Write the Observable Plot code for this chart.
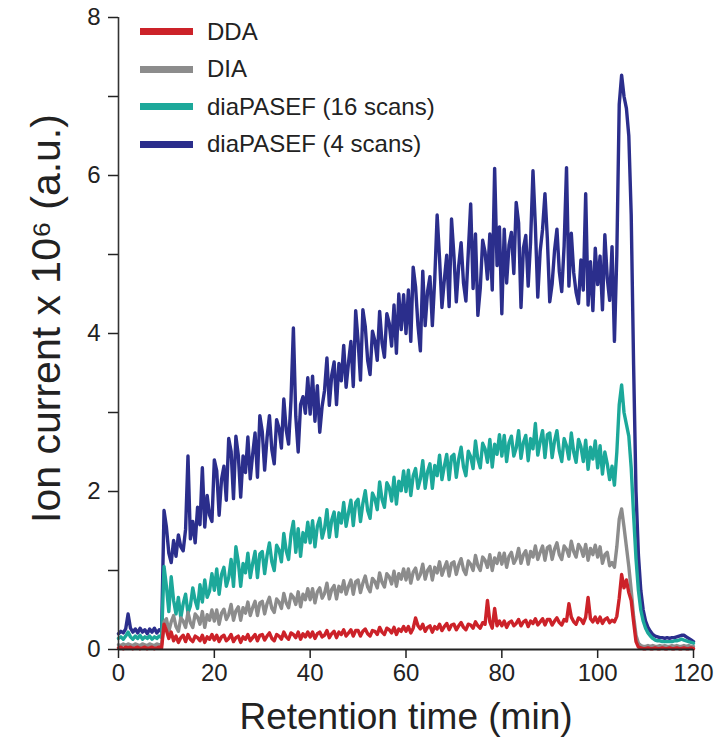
<!DOCTYPE html>
<html><head><meta charset="utf-8">
<script src="https://cdn.jsdelivr.net/npm/d3@7"></script>
<script src="https://cdn.jsdelivr.net/npm/@observablehq/plot@0.6"></script>
<style>
body{margin:0;background:#fff;}
#wrap{position:relative;width:721px;height:745px;font-family:"Liberation Sans",Arial,sans-serif;}
#legend{position:absolute;left:140px;top:13px;}
.row{display:flex;align-items:center;height:37.5px;font-size:24px;color:#222;white-space:nowrap;}
.sw{width:53px;height:7px;margin-right:14px;}
</style></head><body><div id="wrap"><div id="legend"></div></div>
<script>
const seriesNames = ["DDA", "DIA", "diaPASEF (16 scans)", "diaPASEF (4 scans)"];
const seriesColors = ["#cc2229", "#8c8c8c", "#1ca89a", "#2b2e8c"];
const xTicks = [0, 20, 40, 60, 80, 100, 120];
const yMajor = [0, 2, 4, 6, 8];
const yMinor = [1, 3, 5, 7];
const xTitle = "Retention time (min)";
const yTitle = "Ion current x 10\u2076 (a.u.)";
// retention time grid, every 0.5 min from 0 to 120
const time = d3.range(0, 120.25, 0.5);

const pasef4 = [
0.20,0.23,0.21,0.26,0.45,0.27,0.22,0.26,0.21,0.27,0.22,0.25,0.20,0.26,0.22,0.27,0.21,0.25,0.23,1.76,
1.55,1.22,1.10,1.38,1.18,1.45,1.30,1.25,1.52,2.45,1.40,1.62,1.35,1.80,1.58,2.30,1.55,1.95,1.70,1.62,
2.40,2.26,1.70,2.15,2.32,1.89,2.67,2.51,1.91,2.70,2.46,1.93,2.45,2.24,2.69,2.16,2.47,2.74,2.18,2.96,
2.76,2.27,2.68,2.96,2.53,2.35,2.91,2.80,2.55,3.17,2.78,2.60,3.16,4.07,2.95,2.50,3.10,3.20,2.99,3.44,
2.98,3.46,2.89,3.34,2.75,3.08,3.28,3.69,3.09,3.47,3.64,3.10,3.62,3.40,3.85,3.32,3.63,3.90,3.33,4.29,
3.91,3.41,4.30,4.09,3.66,3.48,4.03,3.91,3.66,4.28,3.88,3.70,4.25,4.13,3.84,4.36,3.75,4.50,4.05,4.49,
4.00,4.55,3.90,4.84,4.59,4.10,3.78,4.79,4.10,4.53,4.72,4.10,4.69,5.50,4.95,4.33,4.68,4.99,4.34,5.45,
4.99,4.40,4.86,5.15,4.64,4.41,5.03,5.64,4.57,5.26,4.23,4.57,5.18,5.03,4.69,5.26,4.55,6.09,4.86,5.35,
4.25,5.32,4.64,5.12,5.28,4.76,5.66,5.40,4.33,5.08,5.24,4.60,5.16,6.06,5.36,4.46,5.04,5.32,5.77,5.20,
4.40,4.63,5.05,5.32,4.78,4.53,5.11,6.10,4.60,5.27,4.77,4.52,4.38,4.93,4.55,5.77,4.36,4.91,4.29,5.08,
4.62,4.98,4.30,5.25,4.70,4.42,5.10,3.90,5.00,6.90,7.27,7.00,6.85,6.50,5.50,3.60,2.00,1.20,0.75,0.50,
0.36,0.28,0.23,0.19,0.17,0.16,0.15,0.15,0.14,0.15,0.14,0.15,0.15,0.16,0.17,0.18,0.18,0.16,0.14,0.12,
0.10];

const pasef16 = [
0.14,0.16,0.13,0.17,0.22,0.16,0.13,0.17,0.14,0.18,0.13,0.16,0.14,0.17,0.13,0.16,0.14,0.17,0.15,1.05,
0.80,0.48,0.92,0.62,0.45,0.66,0.40,0.58,0.70,0.46,0.55,0.78,0.62,0.52,0.82,0.60,0.88,0.66,0.74,0.96,
0.75,1.02,0.70,0.95,1.04,0.80,0.91,1.14,0.80,1.30,1.11,0.80,1.09,0.97,1.22,0.91,1.09,1.24,0.91,1.21,
1.24,0.96,1.19,1.35,1.11,1.00,1.32,1.26,1.11,1.47,1.25,1.14,1.46,1.62,1.23,1.53,1.18,1.48,1.36,1.61,
1.35,1.63,1.30,1.56,1.66,1.41,1.53,1.77,1.42,1.64,1.74,1.43,1.73,1.60,1.86,1.56,1.73,1.89,1.57,1.86,
1.90,1.62,1.85,2.01,1.76,1.66,1.98,1.91,1.77,2.12,1.90,1.80,2.11,2.05,1.88,2.18,1.84,2.13,2.01,2.26,
2.00,2.27,1.95,2.20,2.29,2.04,2.16,2.39,2.04,2.25,2.35,2.04,2.33,2.20,2.46,2.15,2.32,2.47,2.15,2.44,
2.47,2.18,2.41,2.56,2.31,2.20,2.51,2.44,2.29,2.64,2.41,2.30,2.61,2.54,2.37,2.66,2.31,2.60,2.47,2.72,
2.45,2.71,2.38,2.62,2.70,2.45,2.55,2.77,2.42,2.62,2.71,2.39,2.67,2.54,2.86,2.46,2.63,2.77,2.43,2.72,
2.74,2.43,2.64,2.77,2.51,2.38,2.67,2.58,2.41,2.74,2.50,2.37,2.66,2.57,2.38,2.65,2.28,2.56,2.41,2.64,
2.30,2.58,2.22,2.50,2.35,2.15,2.32,2.08,2.50,3.10,3.35,3.00,2.85,2.70,2.30,1.70,1.15,0.75,0.50,0.36,
0.27,0.21,0.17,0.14,0.12,0.11,0.11,0.10,0.10,0.10,0.10,0.10,0.11,0.11,0.12,0.13,0.12,0.11,0.10,0.09,
0.08];

const dia = [
0.06,0.05,0.07,0.05,0.07,0.06,0.05,0.07,0.06,0.05,0.07,0.06,0.05,0.07,0.06,0.05,0.07,0.06,0.06,0.35,
0.39,0.23,0.35,0.43,0.29,0.23,0.40,0.36,0.28,0.47,0.34,0.28,0.45,0.41,0.32,0.48,0.28,0.44,0.37,0.50,
0.36,0.50,0.32,0.46,0.51,0.38,0.44,0.57,0.37,0.49,0.54,0.37,0.53,0.46,0.60,0.43,0.53,0.61,0.43,0.59,
0.61,0.45,0.58,0.66,0.52,0.47,0.64,0.60,0.52,0.71,0.59,0.53,0.70,0.66,0.57,0.73,0.54,0.70,0.63,0.77,
0.63,0.77,0.59,0.73,0.78,0.65,0.71,0.84,0.64,0.76,0.81,0.64,0.80,0.73,0.87,0.70,0.80,0.88,0.70,0.86,
0.88,0.72,0.84,0.93,0.79,0.73,0.90,0.86,0.78,0.97,0.85,0.79,0.96,0.92,0.83,0.99,0.80,0.96,0.89,1.02,
0.88,1.02,0.84,0.98,1.03,0.89,0.95,1.08,0.89,1.00,1.05,0.88,1.04,0.97,1.11,0.94,1.03,1.11,0.93,1.09,
1.11,0.95,1.07,1.15,1.01,0.95,1.12,1.08,1.00,1.19,1.06,1.00,1.17,1.13,1.04,1.20,1.00,1.16,1.09,1.22,
1.08,1.22,1.04,1.18,1.23,1.09,1.15,1.28,1.09,1.20,1.25,1.08,1.24,1.17,1.31,1.14,1.23,1.31,1.13,1.29,
1.31,1.14,1.27,1.35,1.20,1.14,1.31,1.27,1.18,1.37,1.24,1.17,1.33,1.28,1.18,1.33,1.13,1.28,1.20,1.32,
1.17,1.30,1.09,1.20,1.23,1.06,1.10,1.04,1.30,1.65,1.78,1.55,1.30,1.05,0.75,0.42,0.18,0.08,0.05,0.04,
0.04,0.05,0.04,0.05,0.04,0.04,0.05,0.04,0.05,0.04,0.04,0.05,0.04,0.05,0.04,0.04,0.05,0.04,0.05,0.04,
0.04];

const dda = [
0.02,0.03,0.01,0.03,0.02,0.03,0.01,0.02,0.03,0.01,0.02,0.03,0.01,0.02,0.03,0.01,0.02,0.03,0.02,0.32,
0.24,0.14,0.22,0.11,0.17,0.09,0.15,0.18,0.10,0.19,0.13,0.10,0.17,0.15,0.11,0.18,0.09,0.16,0.13,0.19,
0.12,0.18,0.10,0.16,0.18,0.11,0.14,0.19,0.10,0.15,0.17,0.09,0.16,0.13,0.19,0.11,0.15,0.19,0.11,0.18,
0.19,0.12,0.17,0.21,0.14,0.11,0.19,0.17,0.13,0.22,0.16,0.13,0.21,0.19,0.15,0.22,0.13,0.20,0.16,0.22,
0.16,0.22,0.14,0.20,0.22,0.16,0.18,0.24,0.15,0.20,0.23,0.15,0.22,0.19,0.25,0.17,0.21,0.25,0.17,0.24,
0.24,0.17,0.23,0.26,0.20,0.17,0.24,0.23,0.19,0.28,0.22,0.19,0.27,0.25,0.21,0.28,0.19,0.26,0.23,0.29,
0.23,0.29,0.21,0.27,0.40,0.30,0.26,0.32,0.23,0.28,0.30,0.22,0.29,0.26,0.32,0.24,0.29,0.33,0.25,0.31,
0.32,0.25,0.30,0.34,0.28,0.25,0.32,0.31,0.27,0.35,0.30,0.27,0.34,0.32,0.62,0.35,0.27,0.52,0.30,0.36,
0.30,0.36,0.28,0.34,0.36,0.30,0.33,0.38,0.30,0.35,0.37,0.29,0.36,0.33,0.39,0.31,0.35,0.39,0.31,0.38,
0.38,0.31,0.36,0.40,0.34,0.31,0.38,0.36,0.58,0.41,0.35,0.32,0.40,0.38,0.33,0.41,0.66,0.39,0.35,0.41,
0.34,0.41,0.33,0.38,0.40,0.34,0.37,0.35,0.42,0.65,0.95,0.78,0.88,0.72,0.62,0.35,0.10,0.03,0.02,0.01,
0.01,0.02,0.01,0.01,0.02,0.01,0.01,0.02,0.01,0.01,0.02,0.01,0.01,0.02,0.01,0.01,0.02,0.01,0.01,0.02,
0.01];

const valuesBySeries = [dda, dia, pasef16, pasef4];
const tables = valuesBySeries.map((vals, k) => time.map((t, i) => ({t, v: vals[i], s: seriesNames[k]})));

// draw order: 4 scans, 16 scans, DIA, DDA (DDA on top)
const order = [3, 2, 1, 0];
const lineMarks = order.map(k => Plot.line(tables[k], {x: "t", y: "v", stroke: seriesColors[k], strokeWidth: 3.4, strokeLinejoin: "round"}));

const chart = Plot.plot({
  width: 721,
  height: 745,
  marginLeft: 118,
  marginRight: 28,
  marginTop: 17,
  marginBottom: 96,
  style: {fontFamily: "Liberation Sans, Arial, sans-serif", color: "#222", background: "transparent"},
  x: {domain: [0, 120]},
  y: {domain: [0, 8]},
  marks: [
    ...lineMarks,
    Plot.ruleX([0], {stroke: "#333", strokeWidth: 1.6}),
    Plot.ruleY([0], {stroke: "#222", strokeWidth: 1.8}),
    Plot.axisY({ticks: yMajor, tickSize: 10, tickPadding: 8, fontSize: 24, label: null, strokeWidth: 1.5}),
    Plot.axisY({ticks: yMinor, tickSize: 10, tickFormat: () => "", label: null, strokeWidth: 1.5}),
    Plot.axisX({ticks: xTicks, tickSize: 9, tickPadding: 5, fontSize: 24, label: null, strokeWidth: 1.5}),
    Plot.text([yTitle], {frameAnchor: "left", textAnchor: "middle", lineAnchor: "middle", rotate: -90, dx: -72, dy: -15, fontSize: 41, fill: "#222"}),
    Plot.text([xTitle], {frameAnchor: "bottom", textAnchor: "middle", lineAnchor: "middle", dy: 68, fontSize: 37, fill: "#222"})
  ]
});
const wrap = document.getElementById("wrap");
wrap.insertBefore(chart, wrap.firstChild);

const legend = document.getElementById("legend");
seriesNames.forEach((name, k) => {
  const row = document.createElement("div");
  row.className = "row";
  const sw = document.createElement("span");
  sw.className = "sw";
  sw.style.background = seriesColors[k];
  const lab = document.createElement("span");
  lab.textContent = name;
  row.appendChild(sw);
  row.appendChild(lab);
  legend.appendChild(row);
});
</script></body></html>
